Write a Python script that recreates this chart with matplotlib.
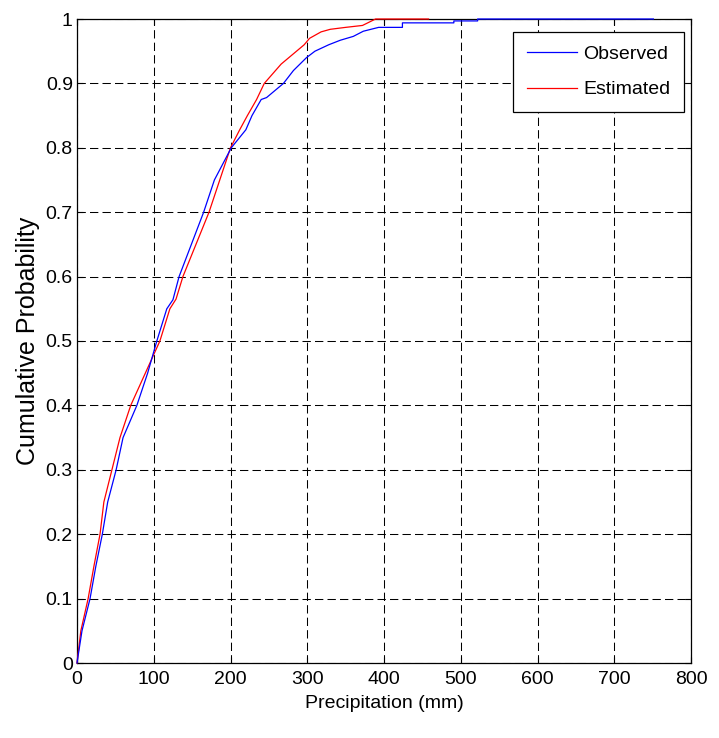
import matplotlib
matplotlib.use("Agg")
import matplotlib.pyplot as plt
from matplotlib import font_manager

obs_x = [0, 6.5, 17, 24.5, 33, 40, 51, 60, 78, 92, 104, 117, 125, 133, 149, 165, 179,
         201, 220, 228, 240, 247, 269, 282, 299, 310, 328, 343, 360, 373, 393, 424,
         424, 491, 491, 522, 522, 751]
obs_y = [0.0, 0.05, 0.10, 0.15, 0.20, 0.25, 0.30, 0.35, 0.40, 0.45, 0.50, 0.55, 0.564,
         0.60, 0.65, 0.70, 0.75, 0.80, 0.828, 0.85, 0.875, 0.878, 0.90, 0.92, 0.94,
         0.95, 0.96, 0.967, 0.973, 0.981, 0.987, 0.987, 0.994, 0.994, 0.997, 0.997,
         1.0, 1.0]
est_x = [0, 5, 14.5, 22, 30, 35, 45.5, 56, 70, 89, 108, 121, 129, 138, 155, 172, 186,
         200, 212, 222, 234, 244, 266, 286, 296, 303, 318, 330, 350, 372, 389, 458]
est_y = [0.0, 0.05, 0.10, 0.15, 0.20, 0.25, 0.30, 0.35, 0.40, 0.45, 0.50, 0.55, 0.565,
         0.60, 0.65, 0.70, 0.75, 0.80, 0.828, 0.85, 0.875, 0.90, 0.93, 0.95, 0.96,
         0.97, 0.98, 0.984, 0.987, 0.99, 1.0, 1.0]
x_ticks = list(range(0, 801, 100))
y_ticks = [i / 10 for i in range(11)]
y_tick_labels = ["0", "0.1", "0.2", "0.3", "0.4", "0.5", "0.6", "0.7", "0.8", "0.9", "1"]


def has_font(name):
    try:
        font_manager.findfont(name, fallback_to_default=False)
        return True
    except Exception:
        return False


if has_font("Liberation Sans Narrow"):
    narrow, small = "Liberation Sans Narrow", 16
else:
    narrow, small = "Liberation Sans", 14
plt.rcParams["font.family"] = [narrow, "DejaVu Sans"]

fig = plt.figure(figsize=(7.19, 7.38), dpi=100)
ax = fig.add_axes([77 / 719, 1 - 663 / 738, 614 / 719, 644 / 738])

ax.plot(obs_x, obs_y, color="#0000ff", lw=0.9, label="Observed", clip_on=False, zorder=5)
ax.plot(est_x, est_y, color="#ff0000", lw=0.9, label="Estimated", clip_on=False, zorder=4)

ax.set_xlim(0, 800)
ax.set_ylim(0, 1)
ax.set_xticks(x_ticks)
ax.set_yticks(y_ticks)
ax.set_yticklabels(y_tick_labels)
ax.grid(True, color="black", ls=(0, (8, 4)), lw=0.75)
ax.tick_params(direction="in", length=4.5, width=0.8, top=True, right=True,
               labelsize=small, colors="black")
ax.tick_params(axis="x", pad=6)
ax.tick_params(axis="y", pad=3)
for sp in ax.spines.values():
    sp.set_linewidth(0.9)

ax.set_xlabel("Precipitation (mm)", fontsize=small, labelpad=5)
ax.set_ylabel("Cumulative Probability", fontsize=18, family="Liberation Sans", labelpad=4)

leg = ax.legend(loc="upper right", bbox_to_anchor=(0.9886, 0.9798), borderaxespad=0,
                fontsize=small, fancybox=False, framealpha=1, edgecolor="black",
                handlelength=2.6, handletextpad=0.3, labelspacing=0.9, borderpad=0.7)
leg.get_frame().set_linewidth(0.9)
leg.set_zorder(10)

fig.savefig("out.png", dpi=100)
